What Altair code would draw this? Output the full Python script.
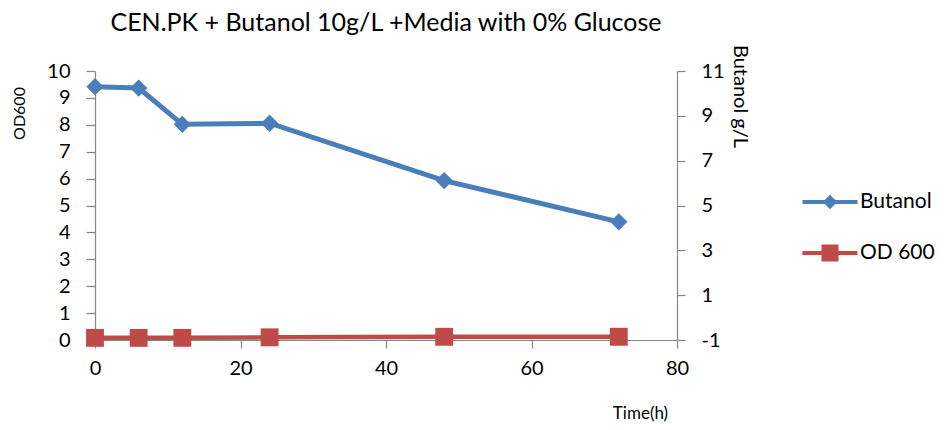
import altair as alt
import pandas as pd

# ---- data ----
time_h = [0, 6, 12, 24, 48, 72]
butanol = [10.30, 10.24, 8.62, 8.67, 6.11, 4.27]
od600 = [0.08, 0.08, 0.08, 0.10, 0.12, 0.12]
series_names = ["Butanol", "OD 600"]
series_colors = ["#4a7ebb", "#be4b48"]
x_ticks = [0, 20, 40, 60, 80]
od_ticks = list(range(0, 11))
bu_ticks = [-1, 1, 3, 5, 7, 9, 11]

df = pd.DataFrame({"time": time_h, "butanol": butanol, "od": od600})
legend_df = pd.DataFrame({"series": series_names})

FONT = "Lato"
AX = "#868686"
BLUE, RED = series_colors

common_axis = dict(
    grid=False, domainColor=AX, tickColor=AX, domainWidth=1.2, tickWidth=1.2,
    labelFont=FONT, labelFontSize=20, labelColor="#000000",
    titleFont=FONT, titleFontWeight="normal", titleColor="#000000",
    labelExpr="'' + datum.value",
)

x_enc = alt.X(
    "time:Q",
    scale=alt.Scale(domain=[0, 80], nice=False),
    axis=alt.Axis(values=x_ticks, title="Time(h)", titleX=545, titleY=73,
                  titleAlign="center", titleBaseline="middle", titleFontSize=17,
                  labelPadding=10, tickSize=8, labelFlush=False, **common_axis),
)

y_od = alt.Y(
    "od:Q",
    scale=alt.Scale(domain=[0, 10], nice=False),
    axis=alt.Axis(values=od_ticks, title="OD600", orient="left", titleAngle=-90,
                  titleX=-76, titleY=42, titleAlign="center", titleBaseline="middle",
                  titleFontSize=16, labelPadding=16, tickSize=9, labelFlush=False,
                  **common_axis),
)

y_bu = alt.Y(
    "butanol:Q",
    scale=alt.Scale(domain=[-1, 11], nice=False),
    axis=alt.Axis(values=bu_ticks, title="Butanol  g/L", orient="right", titleAngle=90,
                  titleX=62, titleY=25, titleAlign="center", titleBaseline="middle",
                  titleFontSize=20, labelPadding=16, tickSize=8, labelFlush=False,
                  **common_axis),
)

base = alt.Chart(df)

bu_line = base.mark_line(color=BLUE, strokeWidth=5).encode(x=x_enc, y=y_bu)
bu_pts = base.mark_point(shape="diamond", filled=True, size=300, color=BLUE,
                         opacity=1).encode(x=x_enc, y=y_bu)
od_line = base.mark_line(color=RED, strokeWidth=4.5).encode(x=x_enc, y=y_od)
od_pts = base.mark_point(shape="square", filled=True, size=320, color=RED,
                         opacity=1).encode(x=x_enc, y=y_od)

diamond_path = ("M-1.1,-0.08L1.1,-0.08L1.1,0.08L-1.1,0.08Z "
                "M0,-0.29L0.29,0L0,0.29L-0.29,0Z")
square_path = ("M-1.1,-0.08L1.1,-0.08L1.1,0.08L-1.1,0.08Z "
               "M-0.34,-0.34L0.34,-0.34L0.34,0.34L-0.34,0.34Z")

legend = alt.Legend(
    title=None, orient="none", legendX=710, legendY=106, padding=0,
    rowPadding=16, labelOffset=5, labelFont=FONT, labelFontSize=21,
    labelColor="#000000", symbolSize=2500, symbolStrokeWidth=0,
)

legend_layer = alt.Chart(legend_df).transform_filter("false").mark_point(
    filled=True, size=2500, opacity=1, strokeWidth=0
).encode(
    color=alt.Color("series:N", scale=alt.Scale(domain=series_names, range=series_colors),
                    legend=legend),
    shape=alt.Shape("series:N", scale=alt.Scale(domain=series_names,
                                                range=[diamond_path, square_path]),
                    legend=legend),
)

left = alt.layer(od_line, od_pts)
right = alt.layer(bu_line, bu_pts)

chart = alt.layer(right, left, legend_layer).resolve_scale(
    y="independent"
).properties(
    width=582,
    height=269,
    title=alt.TitleParams("CEN.PK + Butanol 10g/L +Media with 0% Glucose",
                          font=FONT, fontSize=25, fontWeight="normal",
                          color="#000000", anchor="middle", baseline="alphabetic",
                          frame="group", offset=0, dy=14),
    autosize=alt.AutoSizeParams(type="none"),
    padding={"left": 87, "top": 63, "right": 259, "bottom": 82},
).configure_view(stroke=None)

chart.save("out.html", embed_options={"renderer": "svg", "actions": False})
